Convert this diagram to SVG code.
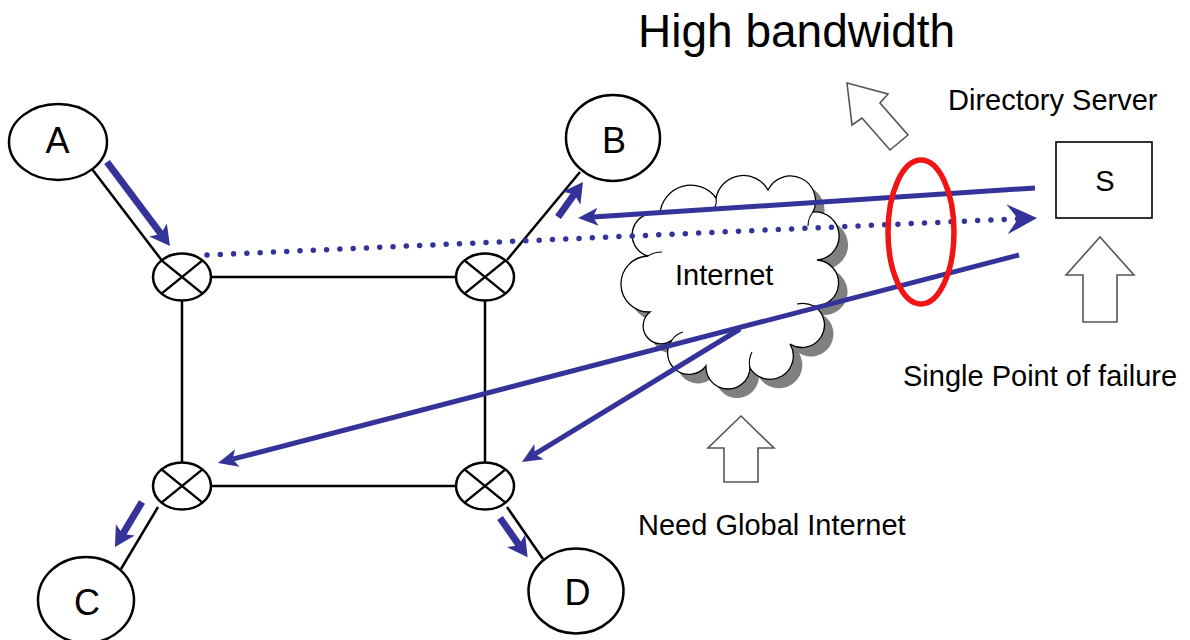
<svg xmlns="http://www.w3.org/2000/svg" width="1190" height="640" viewBox="0 0 1190 640">
  <defs>
    <style>
      .t{font-family:"Liberation Sans",Arial,"DejaVu Sans",sans-serif;fill:#000}
      .lbl{font-size:29px}
      .letter{font-size:36px;text-anchor:middle}
      .node{fill:#fff;stroke:#000;stroke-width:2.5}
      .rt{fill:#fff;stroke:#000;stroke-width:2.5}
      .cross{stroke:#000;stroke-width:2.5;fill:none}
      .link{stroke:#000;stroke-width:2.5;fill:none}
      .flow{stroke:#333399;stroke-width:5;fill:none}
      .flowb{stroke:#333399;stroke-width:7;fill:none}
      .dots{stroke:#333399;stroke-width:5.5;fill:none;stroke-linecap:round;stroke-dasharray:0 13.3}
      .hollow{fill:#fff;stroke:#555;stroke-width:1.6;stroke-linejoin:miter}
    </style>
    <marker id="ah" markerUnits="userSpaceOnUse" markerWidth="22" markerHeight="20" viewBox="0 -10 22 20" refX="5" refY="0" orient="auto">
      <path d="M0,-9 L20,0 L0,9 L5,0 Z" fill="#333399"/>
    </marker>
    <marker id="ahb" markerUnits="userSpaceOnUse" markerWidth="22" markerHeight="24" viewBox="0 -12 22 24" refX="5" refY="0" orient="auto">
      <path d="M0,-11 L20,0 L0,11 L5,0 Z" fill="#333399"/>
    </marker>
    <marker id="ahd" markerUnits="userSpaceOnUse" markerWidth="32" markerHeight="32" viewBox="0 -16 32 32" refX="11" refY="0" orient="auto">
      <path d="M0,-15 L30,0 L0,15 L11,0 Z" fill="#333399"/>
    </marker>
    <!-- cloud outline: lobes between cusp points (A1,1 radii auto-scale to half-circles) -->
    <path id="cloudShape" d="M650,312 A1,1 0 0 1 648,256 A1,1 0 0 1 660,214 A31,31 0 0 1 716,198 A28,28 0 0 1 768,190 A1,1 0 0 1 813,212 A1,1 0 0 1 817,260 A1,1 0 0 1 814,306 A1,1 0 0 1 790,344 A1,1 0 0 1 750,368 A1,1 0 0 1 706,366 A1,1 0 0 1 672,340 A1,1 0 0 1 650,312 Z"/>
  </defs>

  <rect width="1190" height="640" fill="#fff"/>

  <!-- Internet cloud with drop shadow -->
  <g id="internet">
    <use href="#cloudShape" transform="translate(9,9)" fill="#808080"/>
    <use href="#cloudShape" fill="#fff" stroke="#000" stroke-width="1.3"/>
    <g fill="none" stroke="#000" stroke-width="1.1">
      <path d="M648,256 q6,-4 14,-4"/>
      <path d="M716,198 q1,6 -2,11"/>
      <path d="M813,212 q-5,6 -5,14"/>
      <path d="M814,306 q-8,-4 -17,-2"/>
      <path d="M750,368 q-2,-8 2,-16"/>
      <path d="M672,340 q4,-6 11,-8"/>
    </g>
    <text class="t lbl" x="675" y="285">Internet</text>
  </g>

  <!-- network links -->
  <g id="links">
    <path class="link" d="M211,277 H456"/>
    <path class="link" d="M211,486 H456"/>
    <path class="link" d="M182,300 V463"/>
    <path class="link" d="M485,300 V463"/>
    <path class="link" d="M92,169 L163,262"/>
    <path class="link" d="M580,172 L507,260"/>
    <path class="link" d="M158,507 L121,569"/>
    <path class="link" d="M507,507 L543,559"/>
  </g>

  <!-- routers -->
  <g id="router-r1">
    <ellipse class="rt" cx="182" cy="277" rx="29" ry="23.5"/>
    <path class="cross" d="M161.5,260.4 L202.5,293.6 M202.5,260.4 L161.5,293.6"/>
  </g>
  <g id="router-r2">
    <ellipse class="rt" cx="485" cy="277" rx="29" ry="23.5"/>
    <path class="cross" d="M464.5,260.4 L505.5,293.6 M505.5,260.4 L464.5,293.6"/>
  </g>
  <g id="router-r3">
    <ellipse class="rt" cx="182" cy="486" rx="29" ry="23.5"/>
    <path class="cross" d="M161.5,469.4 L202.5,502.6 M202.5,469.4 L161.5,502.6"/>
  </g>
  <g id="router-r4">
    <ellipse class="rt" cx="485" cy="486" rx="29" ry="23.5"/>
    <path class="cross" d="M464.5,469.4 L505.5,502.6 M505.5,469.4 L464.5,502.6"/>
  </g>

  <!-- end hosts -->
  <g id="node-a">
    <ellipse class="node" cx="58" cy="142" rx="49" ry="38"/>
    <text class="t letter" x="57.5" y="153">A</text>
  </g>
  <g id="node-b">
    <ellipse class="node" cx="613" cy="138" rx="47" ry="43"/>
    <text class="t letter" x="614" y="153">B</text>
  </g>
  <g id="node-c">
    <ellipse class="node" cx="86" cy="600" rx="48" ry="43"/>
    <text class="t letter" x="87" y="615">C</text>
  </g>
  <g id="node-d">
    <ellipse class="node" cx="576" cy="591" rx="47.5" ry="42.5"/>
    <text class="t letter" x="577.5" y="605">D</text>
  </g>

  <!-- directory server -->
  <g id="server-s">
    <rect x="1056" y="142" width="96" height="76" fill="#fff" stroke="#000" stroke-width="1.6"/>
    <text class="t" x="1105" y="191" font-size="29" text-anchor="middle">S</text>
  </g>

  <!-- traffic flows -->
  <g id="connectors">
    <path class="dots" d="M207,255 L1018,218.8" marker-end="url(#ahd)"/>
    <path class="flowb" d="M107,162 L161,234" marker-end="url(#ahb)"/>
    <path class="flow" d="M1035,188 L593,217" marker-end="url(#ah)"/>
    <path class="flowb" d="M558,217 L574.3,194.2" marker-end="url(#ahb)"/>
    <path class="flow" d="M1019,255 L232.5,459.2" marker-end="url(#ah)"/>
    <path class="flow" d="M740,329 L534.8,454.2" marker-end="url(#ah)"/>
    <path class="flowb" d="M142,502 L122.7,534.1" marker-end="url(#ahb)"/>
    <path class="flowb" d="M500,518 L519,545" marker-end="url(#ahb)"/>
  </g>

  <!-- bottleneck marker -->
  <ellipse id="bottleneck" cx="921" cy="232" rx="33" ry="72" fill="none" stroke="#f01414" stroke-width="5.5"/>

  <!-- hollow callout arrows -->
  <g id="callouts">
    <polygon class="hollow" points="847,83 888,94 880,103 908,135 890,150 862,118 852,125"/>
    <polygon class="hollow" points="1100,237 1134,275 1117,275 1117,322 1083,322 1083,275 1066,275"/>
    <polygon class="hollow" points="741,416 774,448 758,448 758,482 724,482 724,448 708,448"/>
  </g>

  <!-- captions -->
  <g id="captions">
    <text class="t" x="638" y="47" font-size="46">High bandwidth</text>
    <text class="t lbl" x="948" y="110">Directory Server</text>
    <text class="t lbl" x="903" y="386">Single Point of failure</text>
    <text class="t lbl" x="638" y="535">Need Global Internet</text>
  </g>
</svg>
